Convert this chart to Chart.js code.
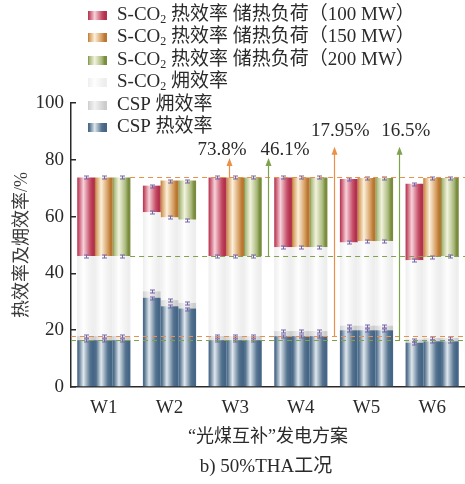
<!DOCTYPE html>
<html>
<head>
<meta charset="utf-8">
<script src="https://cdn.jsdelivr.net/npm/chart.js@4.4.1/dist/chart.umd.min.js"></script>
<style>
  html, body { margin: 0; padding: 0; background: #fff; }
  canvas { display: block; }
</style>
</head>
<body>
<canvas id="chart" width="465" height="484"></canvas>
<script>
// ---- data ----
const categories = ['W1', 'W2', 'W3', 'W4', 'W5', 'W6'];
const loadLabels = ['100 MW', '150 MW', '200 MW'];

// one row per heat storage load (100 / 150 / 200 MW), one column per scheme
const cspHeat = [
  [16.5, 31.4, 16.5, 17.9, 20.0, 15.6],
  [16.5, 28.4, 16.5, 17.9, 20.0, 16.1],
  [16.5, 27.6, 16.5, 17.9, 20.0, 16.1]
];
const cspExergy = [
  [17.95, 33.7, 17.95, 19.7, 21.6, 16.7],
  [17.95, 30.6, 17.95, 19.7, 21.6, 17.3],
  [17.95, 29.6, 17.95, 19.7, 21.6, 17.3]
];
const sco2Exergy = [
  [46.1, 61.5, 46.1, 49.2, 50.9, 44.6],
  [46.1, 59.7, 46.1, 49.2, 51.3, 45.8],
  [46.1, 58.9, 46.1, 49.2, 51.3, 46.0]
];
const sco2Heat = [
  [73.8, 70.9, 73.8, 73.8, 73.2, 71.6],
  [73.8, 72.7, 73.8, 73.8, 73.6, 73.6],
  [73.8, 72.7, 73.8, 73.8, 73.6, 73.6]
];

// reference values (dashed lines + arrows)
const refValues = [73.8, 46.1, 17.95, 16.5];

const SERIF = '"Liberation Serif", "Times New Roman", "Noto Sans CJK SC", serif';
const CJK = '"Liberation Serif", "Noto Sans CJK SC", sans-serif';
const TXT = '#2a2a2a';

// colours
const palettes = {
  red:    { edge: '#c65069', light: '#f7d2da', dark: '#b3324e' },
  orange: { edge: '#d69e62', light: '#fcf0da', dark: '#b97732' },
  olive:  { edge: '#abba7e', light: '#f2f3dd', dark: '#7a8d3e' },
  white:  { edge: '#f2f2f2', light: '#fefefe', dark: '#eeeeee' },
  gray:   { edge: '#d8d8d8', light: '#f2f2f2', dark: '#cccccc' },
  blue:   { edge: '#56748f', light: '#dfe7ee', dark: '#466687' }
};
const loadPalettes = ['red', 'orange', 'olive'];
const REF_ORANGE = '#e9904a';
const REF_GREEN = '#7ea24e';
const ERR_COLOR = '#7767aa';

function paintGradient(ctx, x0, x1, p) {
  const g = ctx.createLinearGradient(x0, 0, x1, 0);
  g.addColorStop(0, p.dark);
  g.addColorStop(0.08, p.edge);
  g.addColorStop(0.35, p.light);
  g.addColorStop(0.72, p.edge);
  g.addColorStop(0.88, p.dark);
  g.addColorStop(1, p.dark);
  return g;
}

function barFill(name) {
  const p = palettes[name];
  return function (c) {
    const el = c.element;
    if (!el || !isFinite(el.x) || !isFinite(el.width)) return p.light;
    return paintGradient(c.chart.ctx, el.x - el.width / 2, el.x + el.width / 2, p);
  };
}

function diff(a, b) {
  return a.map((v, i) => +(v - b[i]).toFixed(2));
}

// stacked segments: CSP heat -> CSP exergy -> S-CO2 exergy -> S-CO2 heat
const datasets = [];
loadLabels.forEach((load, k) => {
  const stack = 's' + k;
  datasets.push({ label: 'CSP 热效率', data: cspHeat[k], stack, backgroundColor: barFill('blue') });
  datasets.push({ label: 'CSP 㶲效率', data: diff(cspExergy[k], cspHeat[k]), stack, backgroundColor: barFill('gray') });
  datasets.push({ label: 'S-CO2 㶲效率', data: diff(sco2Exergy[k], cspExergy[k]), stack, backgroundColor: barFill('white') });
  datasets.push({ label: 'S-CO2 热效率 ' + load, data: diff(sco2Heat[k], sco2Exergy[k]), stack, backgroundColor: barFill(loadPalettes[k]) });
});

// legend rows
const legendRows = [
  { pal: 'red',    parts: [['S-CO'], ['2', 1], [' 热效率 储热负荷（100 MW）']] },
  { pal: 'orange', parts: [['S-CO'], ['2', 1], [' 热效率 储热负荷（150 MW）']] },
  { pal: 'olive',  parts: [['S-CO'], ['2', 1], [' 热效率 储热负荷（200 MW）']] },
  { pal: 'white',  parts: [['S-CO'], ['2', 1], [' 㶲效率']] },
  { pal: 'gray',   parts: [['CSP 㶲效率']] },
  { pal: 'blue',   parts: [['CSP 热效率']] }
];

// annotation layout (x in category units, y in axis units)
const arrows = [
  { x: 1.9, to: 80.6, color: REF_ORANGE, lx: 1.8, ly: 83.6 },
  { x: 2.5, to: 80.6, color: REF_GREEN, lx: 2.76, ly: 83.6 },
  { x: 3.5, to: 84.6, color: REF_ORANGE, lx: 3.6, ly: 90.2 },
  { x: 4.5, to: 84.6, color: REF_GREEN, lx: 4.6, ly: 90.2 }
];

function drawRich(ctx, x, y, parts, size) {
  ctx.textBaseline = 'middle';
  ctx.textAlign = 'left';
  parts.forEach(([t, sub]) => {
    const s = sub ? Math.round(size * 0.62) : size;
    ctx.font = s + 'px ' + SERIF;
    ctx.fillText(t, x, sub ? y + size * 0.25 : y);
    x += ctx.measureText(t).width;
  });
}

const overlay = {
  id: 'overlay',
  afterDatasetsDraw(chart) {
    const { ctx, chartArea } = chart;
    const x = chart.scales.x, y = chart.scales.y;
    ctx.save();

    // error marks on top of each segment
    ctx.strokeStyle = ERR_COLOR;
    ctx.lineWidth = 1;
    chart.data.datasets.forEach((ds, i) => {
      chart.getDatasetMeta(i).data.forEach(el => {
        const cx = Math.round(el.x) + 0.5, cy = Math.round(el.y) + 0.5;
        ctx.beginPath();
        ctx.moveTo(cx - 2.5, cy - 1.5); ctx.lineTo(cx + 2.5, cy - 1.5);
        ctx.moveTo(cx - 2.5, cy + 1.5); ctx.lineTo(cx + 2.5, cy + 1.5);
        ctx.moveTo(cx, cy - 1.5); ctx.lineTo(cx, cy + 1.5);
        ctx.stroke();
      });
    });

    // dashed reference lines
    ctx.lineWidth = 1;
    ctx.setLineDash([5, 4]);
    const refColors = [REF_ORANGE, REF_GREEN, REF_ORANGE, REF_GREEN];
    refValues.forEach((v, i) => {
      const py = Math.round(y.getPixelForValue(v)) + 0.5;
      const x0 = i < 2 ? x.getPixelForValue(0.4) : chartArea.left;
      ctx.strokeStyle = refColors[i];
      ctx.beginPath();
      ctx.moveTo(x0, py);
      ctx.lineTo(chartArea.right, py);
      ctx.stroke();
    });
    ctx.setLineDash([]);

    // arrows with labels
    arrows.forEach((a, i) => {
      const px = Math.round(x.getPixelForValue(a.x)) + 0.5;
      const y0 = y.getPixelForValue(refValues[i]);
      const y1 = y.getPixelForValue(a.to);
      ctx.strokeStyle = a.color;
      ctx.fillStyle = a.color;
      ctx.lineWidth = 1.2;
      ctx.beginPath();
      ctx.moveTo(px, y0);
      ctx.lineTo(px, y1 + 6);
      ctx.stroke();
      ctx.beginPath();
      ctx.moveTo(px, y1);
      ctx.lineTo(px - 3, y1 + 8);
      ctx.lineTo(px + 3, y1 + 8);
      ctx.closePath();
      ctx.fill();

      ctx.fillStyle = TXT;
      ctx.font = '19px ' + SERIF;
      ctx.textAlign = 'center';
      ctx.textBaseline = 'middle';
      ctx.fillText(refValues[i] + '%', x.getPixelForValue(a.lx), y.getPixelForValue(a.ly));
    });
    ctx.restore();
  },
  afterDraw(chart) {
    const { ctx } = chart;
    ctx.save();
    // legend
    legendRows.forEach((row, i) => {
      const cy = 15 + i * 22.4;
      ctx.fillStyle = paintGradient(ctx, 88, 107, palettes[row.pal]);
      ctx.fillRect(88, Math.round(cy - 4), 19, 9);
      ctx.fillStyle = TXT;
      drawRich(ctx, 117, cy, row.parts, 19);
    });
    // caption
    ctx.fillStyle = TXT;
    ctx.font = '19px ' + SERIF;
    ctx.textAlign = 'center';
    ctx.textBaseline = 'middle';
    ctx.fillText('b) 50%THA工况', 266, 467);
    ctx.restore();
  }
};

const chart = new Chart(document.getElementById('chart'), {
  type: 'bar',
  data: { labels: categories, datasets },
  options: {
    responsive: false,
    animation: false,
    devicePixelRatio: 1,
    layout: { padding: { top: 103, right: 0, left: 0, bottom: 0 } },
    datasets: { bar: { barPercentage: 1, categoryPercentage: 0.81, borderWidth: 0 } },
    plugins: { legend: { display: false }, tooltip: { enabled: false } },
    scales: {
      x: {
        stacked: true,
        grid: { display: false, drawTicks: false },
        border: { color: TXT, width: 1.5 },
        ticks: { color: TXT, font: { family: SERIF, size: 19 }, padding: 10 },
        title: {
          display: true, text: '“光煤互补”发电方案', color: TXT,
          font: { family: CJK, size: 18 }, padding: { top: 0, bottom: 36 }
        },
        afterFit(s) { s.height = 97; }
      },
      y: {
        stacked: true,
        min: 0, max: 100,
        ticks: { stepSize: 20, color: TXT, font: { family: SERIF, size: 19 }, padding: 12 },
        grid: { drawOnChartArea: false, tickLength: -5, color: TXT, lineWidth: 1.5 },
        border: { color: TXT, width: 1.5 },
        title: {
          display: true, text: '热效率及㶲效率/%', color: '#3a3a3a',
          font: { family: CJK, size: 18 }, padding: { top: 11, bottom: 0 }
        },
        afterFit(s) { s.width = 71; }
      }
    }
  },
  plugins: [overlay]
});
// gradients need bar positions, so lay out once more
chart.update();
</script>
</body>
</html>
